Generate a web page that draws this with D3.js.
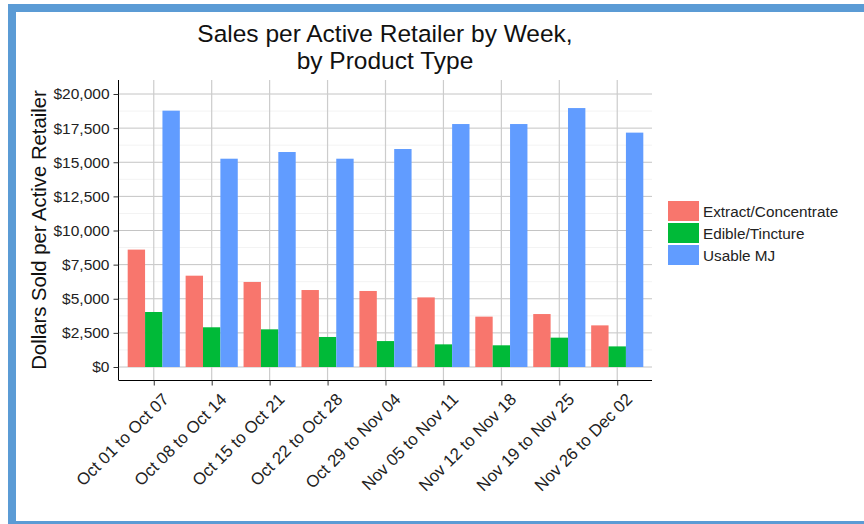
<!DOCTYPE html>
<html>
<head>
<meta charset="utf-8">
<script src="https://cdn.jsdelivr.net/npm/d3@7"></script>
<style>
  body { margin: 0; background: #fff; }
  text { font-family: "Liberation Sans", Arial, sans-serif; }
</style>
</head>
<body>
<div id="chart"></div>
<script>
var weeks = ["Oct 01 to Oct 07", "Oct 08 to Oct 14", "Oct 15 to Oct 21", "Oct 22 to Oct 28",
  "Oct 29 to Nov 04", "Nov 05 to Nov 11", "Nov 12 to Nov 18", "Nov 19 to Nov 25", "Nov 26 to Dec 02"];
var productTypes = ["Extract/Concentrate", "Edible/Tincture", "Usable MJ"];
var extractValues = [8600, 6690, 6230, 5640, 5570, 5100, 3690, 3880, 3050];
var edibleValues = [4030, 2910, 2760, 2200, 1900, 1660, 1590, 2150, 1510];
var usableValues = [18780, 15260, 15750, 15260, 15970, 17800, 17800, 18970, 17170];
var yTicks = [0, 2500, 5000, 7500, 10000, 12500, 15000, 17500, 20000];
var yMinorTicks = [1250, 3750, 6250, 8750, 11250, 13750, 16250, 18750];
var colors = ["#F8766D", "#00BA38", "#619CFF"];

var width = 864;
var height = 524;
var panel = { left: 119, right: 652, top: 80, bottom: 380 };

var svg = d3.select("#chart")
  .append("svg")
  .attr("width", width)
  .attr("height", height);

// blue frame round the picture
svg.append("rect")
  .attr("x", 12)
  .attr("y", 8)
  .attr("width", 900)
  .attr("height", 517)
  .attr("fill", "none")
  .attr("stroke", "#5b9bd5")
  .attr("stroke-width", 8);

var series = productTypes.map(function(name, i) {
  return { name: name, values: [extractValues, edibleValues, usableValues][i] };
});

// discrete scale with ggplot style padding of 0.6 units each side
var unit = (panel.right - panel.left) / (weeks.length - 1 + 1.2);
var xScale = d3.scalePoint()
  .domain(weeks)
  .range([panel.left + 0.6 * unit, panel.right - 0.6 * unit]);

var xInner = d3.scaleBand()
  .domain(productTypes)
  .range([-0.45 * unit, 0.45 * unit]);

var yScale = d3.scaleLinear()
  .domain([-952, 21026])
  .range([panel.bottom, panel.top]);

// grid
var grid = svg.append("g");
grid.selectAll(".minor").data(yMinorTicks).enter()
  .append("line")
  .attr("x1", panel.left).attr("x2", panel.right)
  .attr("y1", d => yScale(d)).attr("y2", d => yScale(d))
  .attr("stroke", "#f3f3f3").attr("stroke-width", 1);
grid.selectAll(".major").data(yTicks).enter()
  .append("line")
  .attr("x1", panel.left).attr("x2", panel.right)
  .attr("y1", d => yScale(d)).attr("y2", d => yScale(d))
  .attr("stroke", "#c4c4c4").attr("stroke-width", 1);
grid.selectAll(".vert").data(weeks).enter()
  .append("line")
  .attr("x1", d => xScale(d)).attr("x2", d => xScale(d))
  .attr("y1", panel.top).attr("y2", panel.bottom)
  .attr("stroke", "#cccccc").attr("stroke-width", 1.2);

// bars
var groups = svg.selectAll(".series").data(series).enter()
  .append("g")
  .attr("fill", (d, i) => colors[i]);

groups.selectAll("rect")
  .data(s => s.values.map((v, j) => ({ name: s.name, week: weeks[j], value: v })))
  .enter()
  .append("rect")
  .attr("x", d => xScale(d.week) + xInner(d.name))
  .attr("width", xInner.bandwidth())
  .attr("y", d => yScale(d.value))
  .attr("height", d => yScale(0) - yScale(d.value));

// axes
var yAxis = d3.axisLeft(yScale)
  .tickValues(yTicks)
  .tickSize(5)
  .tickPadding(4)
  .tickFormat(d => "$" + d3.format(",")(d));

var yG = svg.append("g")
  .attr("transform", "translate(" + (panel.left - 0.5) + ",0)")
  .call(yAxis);
yG.select(".domain").attr("d", "M0," + panel.top + "V" + panel.bottom).attr("stroke", "#000");
yG.selectAll(".tick line").attr("stroke", "#333");
yG.selectAll(".tick text")
  .attr("font-size", 15.5)
  .attr("fill", "#222")
  .style("font-family", "'Liberation Sans', Arial, sans-serif");

var xAxis = d3.axisBottom(xScale).tickSize(5).tickFormat("");
var xG = svg.append("g")
  .attr("transform", "translate(0," + (panel.bottom + 0.5) + ")")
  .call(xAxis);
xG.select(".domain").attr("d", "M" + (panel.left - 0.5) + ",0H" + panel.right).attr("stroke", "#000");
xG.selectAll(".tick line").attr("stroke", "#333");

svg.append("g").selectAll("text").data(weeks).enter()
  .append("text")
  .text(d => d)
  .attr("transform", d => "translate(" + (xScale(d) + 16) + "," + 400.5 + ") rotate(-45)")
  .attr("text-anchor", "end")
  .attr("font-size", 16.8)
  .attr("fill", "#222");

// titles
svg.append("text")
  .attr("x", 385)
  .attr("y", 42)
  .attr("text-anchor", "middle")
  .attr("font-size", 24.5)
  .attr("fill", "#111")
  .text("Sales per Active Retailer by Week,");
svg.append("text")
  .attr("x", 385)
  .attr("y", 68.5)
  .attr("text-anchor", "middle")
  .attr("font-size", 24.5)
  .attr("fill", "#111")
  .text("by Product Type");

svg.append("text")
  .text("Dollars Sold per Active Retailer")
  .attr("transform", "translate(46," + ((panel.top + panel.bottom) / 2) + ") rotate(-90)")
  .attr("text-anchor", "middle")
  .attr("font-size", 20.3)
  .attr("fill", "#111");

// legend
var legend = svg.append("g").attr("transform", "translate(668,201)");
var legendItems = legend.selectAll("g").data(productTypes).enter()
  .append("g")
  .attr("transform", (d, i) => "translate(0," + (i * 22) + ")");
legendItems.append("rect")
  .attr("width", 31)
  .attr("height", 20)
  .attr("fill", (d, i) => colors[i]);
legendItems.append("text")
  .attr("x", 35)
  .attr("y", 15.5)
  .attr("font-size", 15.3)
  .attr("fill", "#222")
  .text(d => d);
</script>
</body>
</html>
